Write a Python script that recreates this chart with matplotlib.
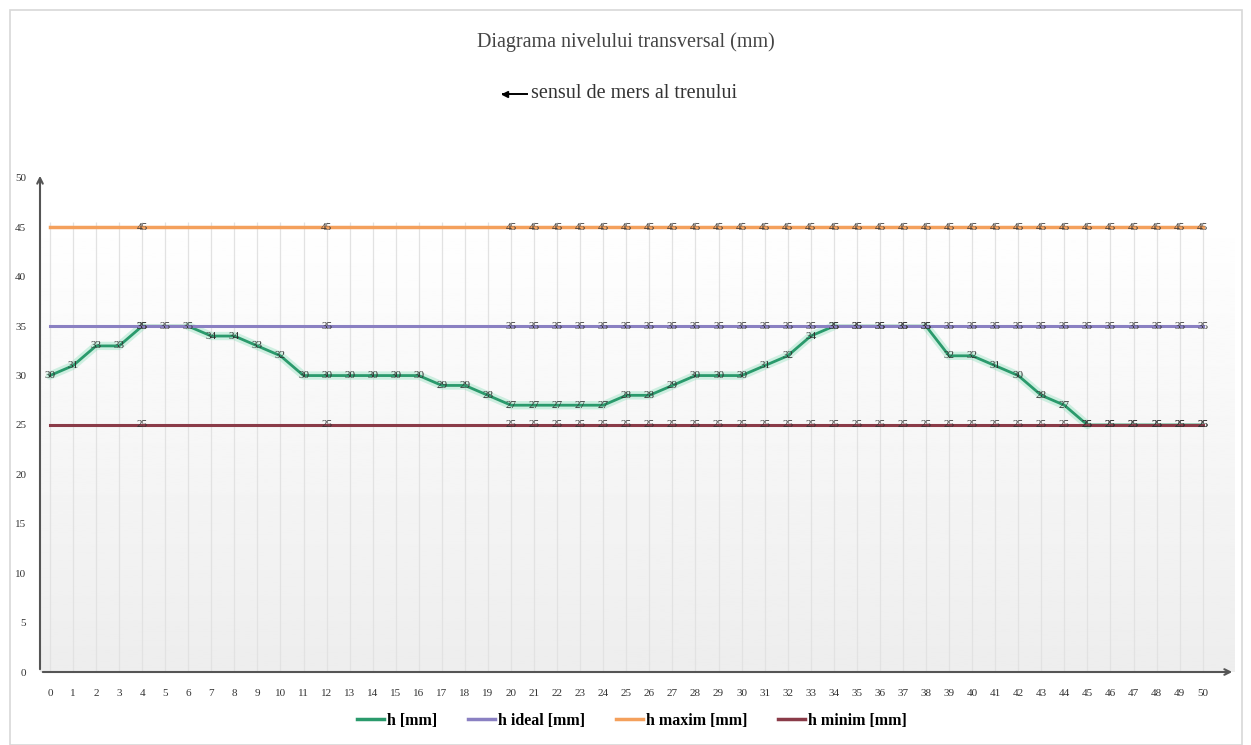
import numpy as np
import matplotlib
matplotlib.use("Agg")
import matplotlib.pyplot as plt
from matplotlib.patches import Rectangle
from matplotlib.lines import Line2D

# data
x = list(range(51))
h = [30, 31, 33, 33, 35, 35, 35, 34, 34, 33, 32, 30, 30, 30, 30, 30, 30, 29, 29, 28,
     27, 27, 27, 27, 27, 28, 28, 29, 30, 30, 30, 31, 32, 34, 35, 35, 35, 35, 35, 32,
     32, 31, 30, 28, 27, 25, 25, 25, 25, 25, 25]
h_ideal = [35] * 51
h_maxim = [45] * 51
h_minim = [25] * 51
const_label_idx = [4, 12] + list(range(20, 51))

serif = "Liberation Serif"

fig = plt.figure(figsize=(12.51, 7.45), dpi=100)
ax = fig.add_axes([40 / 1251, 1 - 672 / 745, 1195 / 1251, (672 - 173) / 745])
ax.set_xlim(-0.43, 51.4)
ax.set_ylim(0, 50.5)

# background gradient of the plot area
grad = np.linspace(0.93, 1.0, 256).reshape(-1, 1)
ax.imshow(grad, cmap="gray", vmin=0, vmax=1, aspect="auto", origin="lower",
          extent=[-0.43, 51.4, 0, 46.5], zorder=0)

ax.vlines(x, 0, 45.5, color="#e2e2e2", lw=0.9, zorder=1)

# green line with a soft glow (glow hidden where the line runs under a limit line)
h_arr = np.array(h, dtype=float)
glow = np.ma.masked_array(h_arr, mask=False)
for i in range(1, len(h) - 1):
    if h[i - 1] == h[i] == h[i + 1] and h[i] in (h_ideal[i], h_minim[i]):
        glow.mask[i] = True
if h[-1] == h[-2] == h_minim[-1]:
    glow.mask[-1] = True
ax.plot(x, glow, color="#7fdcb4", lw=6, alpha=0.35, zorder=2, solid_capstyle="round")
ax.plot(x, h, color="#2a9a6c", lw=2, zorder=3)
ax.plot(x, h_ideal, color="#8a80c2", lw=2.2, zorder=4)
ax.plot(x, h_maxim, color="#f4a05c", lw=2.5, zorder=4)
ax.plot(x, h_minim, color="#8a3b48", lw=2.2, zorder=4)

lab = dict(ha="center", va="center", fontsize=8, family=serif, color="#333333", zorder=6)
for xi, v in zip(x, h):
    ax.text(xi, v, str(v), **lab)
for i in const_label_idx:
    ax.text(x[i], h_ideal[i], str(h_ideal[i]), **lab)
    ax.text(x[i], h_maxim[i], str(h_maxim[i]), **lab)
    ax.text(x[i], h_minim[i], str(h_minim[i]), **lab)

for s in ax.spines.values():
    s.set_visible(False)
ax.annotate("", xy=(-0.43, 50.5), xytext=(-0.43, 0),
            arrowprops=dict(arrowstyle="->", color="#555555", lw=1.5), zorder=7)
ax.annotate("", xy=(51.4, 0), xytext=(-0.43, 0),
            arrowprops=dict(arrowstyle="->", color="#555555", lw=1.5), zorder=7)

ax.set_xticks(x)
ax.set_xticklabels([str(v) for v in x], family=serif, fontsize=8, color="#333333")
ax.set_yticks(range(0, 51, 5))
ax.set_yticklabels([str(v) for v in range(0, 51, 5)], family=serif, fontsize=8, color="#333333")
ax.tick_params(axis="x", length=0, pad=12)
ax.tick_params(axis="y", length=0, pad=10)

fig.text(0.5, 1 - 42 / 745, "Diagrama nivelului transversal (mm)", ha="center", va="center",
         family=serif, fontsize=14.5, color="#444444")
fig.text(531 / 1251, 1 - 93 / 745, "sensul de mers al trenului", ha="left", va="center",
         family=serif, fontsize=14.5, color="#333333")
fig.add_artist(plt.Line2D([503 / 1251, 527 / 1251], [1 - 94 / 745] * 2, color="black", lw=1.4))
fig.add_artist(plt.Line2D([505 / 1251], [1 - 94 / 745], marker="<", ms=5, color="black"))

handles = [Line2D([], [], color="#2a9a6c", lw=2.5),
           Line2D([], [], color="#8a80c2", lw=2.5),
           Line2D([], [], color="#f4a05c", lw=2.5),
           Line2D([], [], color="#8a3b48", lw=2.5)]
labels = ["h [mm]", "h ideal [mm]", "h maxim [mm]", "h minim [mm]"]
fig.legend(handles, labels, loc="center", bbox_to_anchor=(632 / 1251, 1 - 721 / 745), ncol=4,
           frameon=False, handlelength=1.7, handletextpad=0.2, columnspacing=1.9,
           prop=dict(family=serif, weight="bold", size=11.5))

fig.add_artist(Rectangle((10 / 1251, 0), 1232 / 1251, 1 - 10 / 745, transform=fig.transFigure,
                         fill=False, edgecolor="#d8d8d8", lw=1.2))

fig.savefig("out.png", dpi=100)
